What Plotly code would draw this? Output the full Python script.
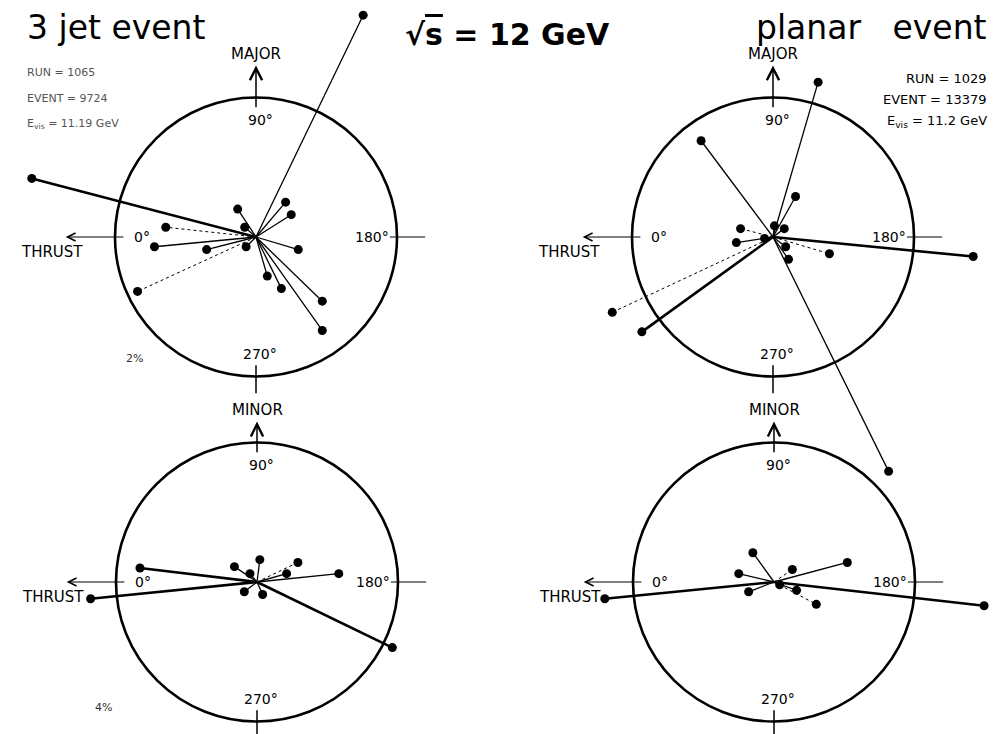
import plotly.graph_objects as go

# track end points, in units of the circle radius (x to the right, y upward)
# top left: 3 jet event, thrust-major plane
tl_px = [0.76, -1.59, -0.13, -0.64, -0.72, -0.35, -0.07, -0.08, -0.84, 0.21, 0.25, 0.30, 0.08, 0.18, 0.47, 0.47]
tl_py = [1.59, 0.42, 0.20, 0.07, -0.07, -0.09, -0.07, 0.07, -0.39, 0.25, 0.16, -0.09, -0.28, -0.37, -0.46, -0.67]

# top right: planar event, thrust-major plane
tr_px = [0.32, -0.51, 0.82, 0.16, 0.01, 0.08, -0.23, -0.26, -0.06, -1.14, -0.93, 1.42, 0.40, 0.11, 0.09]
tr_py = [1.11, 0.69, -1.68, 0.29, 0.08, 0.06, 0.06, -0.04, -0.01, -0.54, -0.68, -0.14, -0.12, -0.16, -0.07]

# bottom left: 3 jet event, thrust-minor plane
bl_px = [-0.83, -1.18, 0.96, 0.58, 0.29, 0.21, 0.02, -0.16, -0.05, -0.09, 0.04]
bl_py = [0.10, -0.12, -0.47, 0.06, 0.14, 0.06, 0.16, 0.11, 0.06, -0.07, -0.09]

# bottom right: planar event, thrust-minor plane
br_px = [-1.20, 1.49, 0.52, -0.15, -0.25, -0.18, 0.13, 0.16, 0.30, 0.04]
br_py = [-0.12, -0.17, 0.14, 0.21, 0.06, -0.07, 0.09, -0.06, -0.16, -0.02]

run_info = {
    "tl": ["RUN = 1065", "EVENT = 9724", "E<sub>vis</sub> = 11.19 GeV"],
    "tr": ["RUN = 1029", "EVENT = 13379", "E<sub>vis</sub> = 11.2 GeV"],
}
scale_note = {"tl": "2%", "bl": "4%"}
vertical_axis = {"tl": "MAJOR", "tr": "MAJOR", "bl": "MINOR", "br": "MINOR"}
angle_labels = ["0°", "90°", "180°", "270°"]

# ---- styling / layout ----
W, H = 1002, 734
RX, RY = 141, 139.5           # pixels per radius unit
centres = {"tl": (256, 237), "tr": (773, 237), "bl": (257, 582), "br": (774, 582)}
heavy = {"tl": [1], "tr": [10, 11], "bl": [0, 1, 2], "br": [0, 1]}
faint = {"tl": [3, 8], "tr": [6, 9, 12], "bl": [4], "br": [6, 8]}
FONT = "DejaVu Sans"

panels = {"tl": (tl_px, tl_py), "tr": (tr_px, tr_py), "bl": (bl_px, bl_py), "br": (br_px, br_py)}
axis_ids = {"tl": "", "tr": "2", "bl": "3", "br": "4"}

fig = go.Figure()
layout = dict(
    width=W, height=H, margin=dict(l=0, r=0, t=0, b=0),
    paper_bgcolor="white", plot_bgcolor="rgba(0,0,0,0)", showlegend=False,
)
shapes, annotations = [], []

for key, (px, py) in panels.items():
    n = axis_ids[key]
    xa, ya = "x" + n, "y" + n
    cx, cy = centres[key]
    xr = [-cx / RX, (W - cx) / RX]
    yr = [-(H - cy) / RY, cy / RY]
    xname = "xaxis" + n
    yname = "yaxis" + n
    layout[xname] = dict(range=xr, visible=False, fixedrange=True)
    layout[yname] = dict(range=yr, visible=False, fixedrange=True)
    if n:
        layout[xname].update(overlaying="x", anchor=ya)
        layout[yname].update(overlaying="y", anchor=xa)

    for i, (x, y) in enumerate(zip(px, py)):
        w = 2.6 if i in heavy[key] else (1.0 if i in faint[key] else 1.3)
        dash = "dot" if i in faint[key] else "solid"
        fig.add_trace(go.Scatter(
            x=[0, x], y=[0, y], mode="lines", xaxis=xa, yaxis=ya,
            line=dict(color="black", width=w, dash=dash), hoverinfo="skip",
        ))
    fig.add_trace(go.Scatter(
        x=px, y=py, mode="markers", xaxis=xa, yaxis=ya,
        marker=dict(color="black", size=9), hoverinfo="skip",
    ))

    # circle
    shapes.append(dict(type="circle", xref=xa, yref=ya, x0=-1, x1=1, y0=-1, y1=1,
                       line=dict(color="black", width=2.6)))
    # 180 and 270 ticks
    shapes.append(dict(type="line", xref=xa, yref=ya, x0=0.95, x1=1.2, y0=0, y1=0,
                       line=dict(color="black", width=1)))
    shapes.append(dict(type="line", xref=xa, yref=ya, x0=0, x1=0, y0=-0.92, y1=-1.12,
                       line=dict(color="black", width=1.5)))

    major = vertical_axis[key] == "MAJOR"
    tip = 1.23 if major else 1.15
    # up arrow (major / minor)
    annotations.append(dict(xref=xa, yref=ya, axref=xa, ayref=ya, x=0, y=tip, ax=0, ay=0.92,
                            showarrow=True, arrowhead=5, arrowsize=1.6, arrowwidth=1.5,
                            arrowcolor="black", text=""))
    annotations.append(dict(xref=xa, yref=ya, x=0, y=tip + 0.08, text=vertical_axis[key],
                            showarrow=False, font=dict(family=FONT, size=15, color="black")))
    # thrust arrow
    annotations.append(dict(xref=xa, yref=ya, axref=xa, ayref=ya, x=-1.35, y=0, ax=-0.93, ay=0,
                            showarrow=True, arrowhead=5, arrowsize=1.6, arrowwidth=1,
                            arrowcolor="black", text=""))
    annotations.append(dict(xref=xa, yref=ya, x=-1.45, y=-0.11, text="THRUST",
                            showarrow=False, font=dict(family=FONT, size=15, color="black")))
    # angle labels
    for lab, (lx, ly) in zip(angle_labels, [(-0.81, 0.0), (0.03, 0.84), (0.82, 0.0), (0.03, -0.84)]):
        annotations.append(dict(xref=xa, yref=ya, x=lx, y=ly, text=lab, showarrow=False,
                                font=dict(family=FONT, size=14, color="black")))
    if key in scale_note:
        sx, sy = (-0.86, -0.87) if key == "tl" else (-1.09, -0.9)
        annotations.append(dict(xref=xa, yref=ya, x=sx, y=sy, text=scale_note[key], showarrow=False,
                                font=dict(family=FONT, size=11, color="#333")))

# event info blocks
for i, line in enumerate(run_info["tl"]):
    annotations.append(dict(xref="paper", yref="paper", x=25 / W, y=1 - (73 + 25.5 * i) / H,
                            xanchor="left", yanchor="middle", text=line, showarrow=False,
                            font=dict(family=FONT, size=11, color="#555")))
for i, line in enumerate(run_info["tr"]):
    annotations.append(dict(xref="paper", yref="paper", x=989 / W, y=1 - (78 + 21.5 * i) / H,
                            xanchor="right", yanchor="middle", text=line, showarrow=False,
                            font=dict(family=FONT, size=13, color="black")))

# titles
annotations.append(dict(xref="paper", yref="paper", x=25 / W, y=1 - 27 / H, xanchor="left",
                        yanchor="middle", text="3 jet event", showarrow=False,
                        font=dict(family=FONT, size=33, color="black")))
annotations.append(dict(xref="paper", yref="paper", x=989 / W, y=1 - 27 / H, xanchor="right",
                        yanchor="middle", text="planar   event", showarrow=False,
                        font=dict(family=FONT, size=33, color="black")))
annotations.append(dict(xref="paper", yref="paper", x=507 / W, y=1 - 34 / H,
                        xanchor="center", yanchor="middle",
                        text="<b>√<span style='text-decoration:overline'>s</span> = 12 GeV</b>",
                        showarrow=False, font=dict(family=FONT, size=30, color="black")))

layout["shapes"] = shapes
layout["annotations"] = annotations
fig.update_layout(**layout)
fig.write_html("out.html", config={"displayModeBar": False},
               post_script="document.body.style.margin = '0px';")
